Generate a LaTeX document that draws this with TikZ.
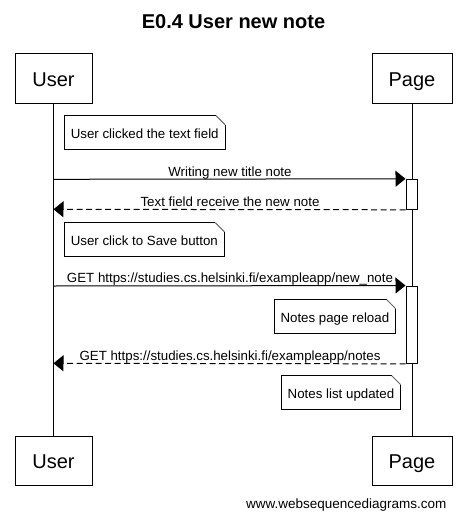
\documentclass[tikz,border=0pt]{standalone}
\usepackage{fontspec}
\setmainfont{Liberation Sans}
\usetikzlibrary{arrows.meta}
\begin{document}
\begin{tikzpicture}[x=1pt,y=-1pt,line width=1pt,
  actor/.style={draw,fill=white,minimum width=77pt,minimum height=49pt,inner sep=0pt,
    font=\fontsize{20}{24}\selectfont,text height=16.3pt,text depth=0pt},
  actbox/.style={draw,fill=white,minimum width=11pt,minimum height=#1,inner sep=0pt},
  notebox/.style={minimum height=33pt,inner xsep=6pt,inner ysep=0pt,
    font=\fontsize{13.3}{16}\selectfont,text height=12pt,text depth=0pt},
  lbl/.style={font=\fontsize{13.3}{16}\selectfont,anchor=base,inner sep=0pt},
  msg/.style={-{Triangle[length=10pt,width=16pt]}},
  reply/.style={msg,dash pattern=on 6pt off 3.5pt},
  fold/.style={draw=black!60}
]
\fill[white] (0,0) rectangle (466,519);
\useasboundingbox (0,0) rectangle (466,519);

\node[font=\fontsize{20}{24}\selectfont\bfseries,anchor=base,inner sep=0pt] (title) at (233.5,29) {E0.4 User new note};

% participants
\node[actor] (ut) at (53.5,78.5) {User};
\node[actor,minimum width=80pt] (pt) at (412,78.5) {Page};
\node[actor] (ub) at (53.5,460.5) {User};
\node[actor,minimum width=80pt] (pb) at (412,460.5) {Page};

% lifelines
\draw (ut) -- (ub);
\draw (pt) -- (pb);

% activations
\node[actbox=30pt] (a1) at (411.5,194.3) {};
\node[actbox=77.3pt] (a2) at (411.5,324.7) {};

% points on the user lifeline
\coordinate (m1) at (53.5,179.3);
\coordinate (m2) at (53.5,209.3);
\coordinate (m3) at (53.5,286);
\coordinate (m4) at (53.5,363.3);

% messages
\draw[msg] (m1) -- (a1.north west);
\node[lbl] (l1) at (230,176) {Writing new title note};
\draw[reply] (a1.south west) -- (m2);
\node[lbl] (l2) at (230,206) {Text field receive the new note};
\draw[msg] (m3) -- (a2.north west);
\node[lbl] (l3) at (230,282.7) {GET https://studies.cs.helsinki.fi/exampleapp/new\_note};
\draw[reply] (a2.south west) -- (m4);
\node[lbl] (l4) at (230,360) {GET https://studies.cs.helsinki.fi/exampleapp/notes};

% notes
\node[notebox,anchor=west] (n1) at (64.3,132.7) {User clicked the text field};
\node[notebox,anchor=west] (n2) at (64.3,239.7) {User click to Save button};
\node[notebox,anchor=east] (n3) at (395.7,316.7) {Notes page reload};
\node[notebox,anchor=east] (n4) at (400.7,392.7) {Notes list updated};
\foreach \n in {n1,n2,n3,n4}{
  \draw[line join=miter] ([xshift=-9pt]\n.north east) -- (\n.north west) -- (\n.south west)
        -- (\n.south east) -- ([yshift=-9pt]\n.north east);
  \draw[fold] ([xshift=-9pt]\n.north east) -- ([yshift=-9pt]\n.north east);
}

\node[font=\fontsize{13.5}{16}\selectfont,anchor=base east,inner sep=0pt] (footer) at (447,508) {www.websequencediagrams.com};
\end{tikzpicture}
\end{document}
